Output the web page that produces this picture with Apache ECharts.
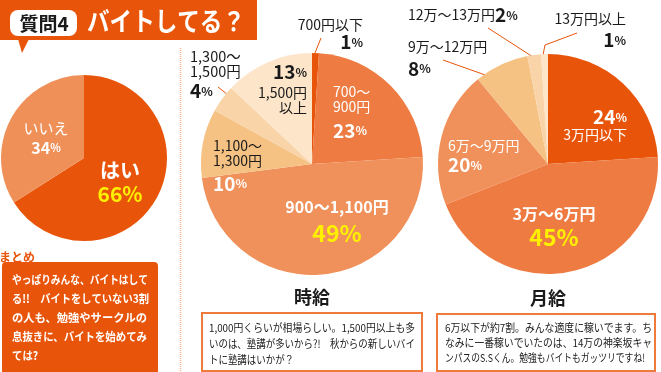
<!DOCTYPE html>
<html><head><meta charset="utf-8">
<script src="https://cdn.jsdelivr.net/npm/echarts@6/dist/echarts.min.js"></script>
<style>html,body{margin:0;padding:0;background:#fff}#c{width:661px;height:372px}</style>
</head><body><div id="c"></div>
<script>
const FONT = '"Noto Sans CJK JP", "Noto Sans", sans-serif';

// ---- data ----
const q4Categories = ['はい', 'いいえ'];
const q4Values = [66, 34];
const hourlyCategories = ['700円以下', '700〜900円', '900〜1,100円', '1,100〜1,300円', '1,300〜1,500円', '1,500円以上'];
const hourlyLabelText = ['700円以下', '700〜\n900円', '900〜1,100円', '1,100〜\n1,300円', '1,300〜\n1,500円', '1,500円\n以上'];
const hourlyValues = [1, 23, 49, 10, 4, 13];
const monthlyCategories = ['3万円以下', '3万〜6万円', '6万〜9万円', '9万〜12万円', '12万〜13万円', '13万円以上'];
const monthlyLabelText = ['3万円以下', '3万〜6万円', '6万〜9万円', '9万〜12万円', '12万〜13万円', '13万円以上'];
const monthlyValues = [24, 45, 20, 8, 2, 1];
const chartTitles = ['時給', '月給'];
const headerTag = '質問4';
const headerTitle = 'バイトしてる？';
const summaryHeading = 'まとめ';
const summaryLines = ['やっぱりみんな、バイトはして', 'る!!　バイトをしていない3割', 'の人も、勉強やサークルの', '息抜きに、バイトを始めてみ', 'ては?'];
const hourlyNoteLines = ['1,000円くらいが相場らしい。1,500円以上も多', 'いのは、塾講が多いから?!　秋からの新しいバイ', 'トに塾講はいかが？'];
const monthlyNoteLines = ['6万以下が約7割。みんな適度に稼いでます。ち', 'なみに一番稼いでいたのは、14万の神楽坂キャ', 'ンパスのS.Sくん。勉強もバイトもガッツリですね!'];

// ---- styles / layout ----
const ORANGE = '#E8550A';
const PAL6 = ['#E8550A', '#EE7B42', '#F0905A', '#F5C283', '#F8D4A8', '#FCE5C9'];
const PAL2 = ['#E8550A', '#EF9058'];
const K = '#1a1a1a', W = '#ffffff', Y = '#FFF000';

const q4Lay = [
  {x: 120, y: 158, a: 'center', va: 'top', o: 'np', nc: W, nf: 20, nb: true, nl: 24, pc: Y, pf: 21, ps: 21, pl: 24},
  {x: 46, y: 120, a: 'center', va: 'top', o: 'np', nc: W, nf: 15, nb: false, nl: 16, pc: W, pf: 16, ps: 11, pl: 24}
];
const hourlyLay = [
  {x: 363, y: 17, a: 'right', va: 'top', o: 'np', nc: K, nf: 14, nb: false, nl: 16, pc: K, pf: 19, ps: 12, pl: 18},
  {x: 333, y: 84.5, a: 'left', va: 'top', o: 'np', nc: W, nf: 14, nb: false, nl: 15, pc: W, pf: 19, ps: 12, pl: 32},
  {x: 337, y: 196, a: 'center', va: 'top', o: 'np', nc: W, nf: 16, nb: true, nl: 22, pc: Y, pf: 23, ps: 23, pl: 30},
  {x: 213, y: 138.5, a: 'left', va: 'top', o: 'np', nc: K, nf: 14, nb: false, nl: 15, pc: W, pf: 19, ps: 12, pl: 30},
  {x: 190, y: 48.5, a: 'left', va: 'top', o: 'np', nc: K, nf: 14.5, nb: false, nl: 15, pc: K, pf: 19, ps: 12, pl: 25},
  {x: 307, y: 58.5, a: 'right', va: 'top', o: 'pn', nc: K, nf: 14, nb: false, nl: 15, pc: K, pf: 19, ps: 12, pl: 27}
];
const monthlyLay = [
  {x: 627, y: 107, a: 'right', va: 'top', o: 'pn', nc: W, nf: 14, nb: false, nl: 15, pc: W, pf: 19, ps: 12, pl: 20},
  {x: 554, y: 203, a: 'center', va: 'top', o: 'np', nc: W, nf: 16, nb: true, nl: 22, pc: Y, pf: 23, ps: 23, pl: 24},
  {x: 448, y: 138.5, a: 'left', va: 'top', o: 'np', nc: W, nf: 14, nb: false, nl: 15, pc: W, pf: 19, ps: 12, pl: 23},
  {x: 408, y: 39.5, a: 'left', va: 'top', o: 'np', nc: K, nf: 14, nb: false, nl: 15, pc: K, pf: 19, ps: 12, pl: 28},
  {x: 408, y: 15, a: 'left', va: 'middle', o: 'in', nc: K, nf: 14, nb: false, nl: 20, pc: K, pf: 19, ps: 12, pl: 20},
  {x: 626, y: 11.5, a: 'right', va: 'top', o: 'np', nc: K, nf: 14, nb: false, nl: 15, pc: K, pf: 19, ps: 12, pl: 27}
];

function buildItems(names, labels, values, lay, pal) {
  return values.map(function (v, i) {
    const L = lay[i];
    const nameParts = labels[i].split('\n').map(function (s) { return '{nm|' + s + '}'; });
    const pct = '{pn|' + v + '}{pp|%}';
    let fmt;
    if (L.o === 'np') fmt = nameParts.concat([pct]).join('\n');
    else if (L.o === 'pn') fmt = [pct].concat(nameParts).join('\n');
    else fmt = nameParts.join('') + pct;
    return {
      name: names[i], value: v,
      itemStyle: {color: pal[i]},
      label: {
        formatter: fmt,
        rich: {
          nm: {color: L.nc, fontSize: L.nf, fontWeight: L.nb ? 'bold' : 'normal', lineHeight: L.nl, fontFamily: FONT, align: L.a},
          pn: {color: L.pc, fontSize: L.pf, fontWeight: 'bold', lineHeight: L.pl, fontFamily: FONT, align: L.a},
          pp: {color: L.pc, fontSize: L.ps, fontWeight: 'bold', lineHeight: L.pl, fontFamily: FONT, align: L.a}
        }
      }
    };
  });
}

function pieSeries(center, radius, items, lay) {
  return {
    type: 'pie', center: center, radius: radius, startAngle: 90, clockwise: true,
    silent: true, animation: false, avoidLabelOverlap: false,
    itemStyle: {borderWidth: 0},
    label: {show: true, position: 'inside', fontFamily: FONT},
    labelLine: {show: false},
    emphasis: {disabled: true},
    labelLayout: function (p) {
      const L = lay[p.dataIndex];
      return {x: L.x, y: L.y, align: L.a, verticalAlign: L.va};
    },
    data: items
  };
}

const mctx = document.createElement('canvas').getContext('2d');
function measure(text, size, weight) {
  mctx.font = (weight || 'normal') + ' ' + size + 'px ' + FONT;
  return mctx.measureText(text).width;
}

function textEl(x, y, text, opt, sx) {
  const el = {type: 'text', x: x, y: y, silent: true, style: Object.assign({text: text, fontFamily: FONT}, opt)};
  if (sx) el.scaleX = sx;
  return el;
}
// each line compressed horizontally to the width it takes in the reference (null = reuse last scale)
function fitLines(lines, x, y0, step, size, weight, color, widths) {
  const out = [];
  let last = 1;
  lines.forEach(function (t, i) {
    let s = last;
    if (widths[i]) { s = Math.min(1, widths[i] / measure(t, size, weight)); last = s; }
    out.push(textEl(x, y0 + i * step, t, {fill: color, fontSize: size, fontWeight: weight, align: 'left', verticalAlign: 'middle'}, s));
  });
  return out;
}
function line(points, color) {
  return {type: 'polyline', silent: true, shape: {points: points}, style: {stroke: color || ORANGE, lineWidth: 1, fill: null}};
}

const titleScale = Math.min(1, 158 / measure(headerTitle, 26, 'bold'));

let graphics = [
  {type: 'rect', silent: true, shape: {x: 0, y: 0, width: 257, height: 40}, style: {fill: ORANGE}},
  {type: 'polygon', silent: true, shape: {points: [[18, 39], [29, 39], [22, 53]]}, style: {fill: ORANGE}},
  {type: 'rect', silent: true, shape: {x: 10, y: 10, width: 67, height: 26, r: 8}, style: {fill: '#fff'}},
  textEl(44, 23.5, headerTag, {fill: K, fontSize: 19, fontWeight: 'bold', align: 'center', verticalAlign: 'middle'}),
  textEl(87, 21.5, headerTitle, {fill: '#fff', fontSize: 26, fontWeight: 'bold', align: 'left', verticalAlign: 'middle'}, titleScale),
  {type: 'line', silent: true, shape: {x1: 180.5, y1: 48, x2: 180.5, y2: 372}, style: {stroke: '#F4B48E', lineWidth: 1.5, lineDash: [1, 1]}},
  textEl(-1, 257, summaryHeading, {fill: ORANGE, fontSize: 12, fontWeight: 'bold', align: 'left', verticalAlign: 'middle'}),
  {type: 'rect', silent: true, shape: {x: 2, y: 262, width: 156, height: 115, r: 4}, style: {fill: ORANGE}},
  textEl(312, 297.5, chartTitles[0], {fill: K, fontSize: 18, fontWeight: 'bold', align: 'center', verticalAlign: 'middle'}),
  textEl(548, 298.5, chartTitles[1], {fill: K, fontSize: 18, fontWeight: 'bold', align: 'center', verticalAlign: 'middle'}),
  {type: 'rect', silent: true, shape: {x: 202, y: 313, width: 220, height: 58}, style: {fill: '#fff', stroke: '#EE7A3C', lineWidth: 2}},
  {type: 'rect', silent: true, shape: {x: 437, y: 314, width: 218, height: 57}, style: {fill: '#fff', stroke: '#EE7A3C', lineWidth: 2}},
  line([[321, 38], [315, 53]]),
  line([[218, 87], [232, 98]]),
  line([[488, 28], [533, 57]]),
  line([[443, 60], [505, 82]]),
  line([[577, 33], [545, 45], [543, 55]])
];
graphics = graphics
  .concat(fitLines(summaryLines, 12, 280, 19, 11.5, 'bold', '#fff', [136, 137, 135, 135, null]))
  .concat(fitLines(hourlyNoteLines, 209, 328, 16, 11, 'normal', K, [206, 206, null]))
  .concat(fitLines(monthlyNoteLines, 445, 328, 15, 11, 'normal', K, [207, 207, 200]));

const chart = echarts.init(document.getElementById('c'), null, {renderer: 'canvas'});
chart.setOption({
  backgroundColor: '#fff',
  animation: false,
  series: [
    pieSeries([84, 158], 83, buildItems(q4Categories, q4Categories, q4Values, q4Lay, PAL2), q4Lay),
    pieSeries([312, 164], 111, buildItems(hourlyCategories, hourlyLabelText, hourlyValues, hourlyLay, PAL6), hourlyLay),
    pieSeries([548, 164], 110, buildItems(monthlyCategories, monthlyLabelText, monthlyValues, monthlyLay, PAL6), monthlyLay)
  ],
  graphic: graphics
});
</script></body></html>
